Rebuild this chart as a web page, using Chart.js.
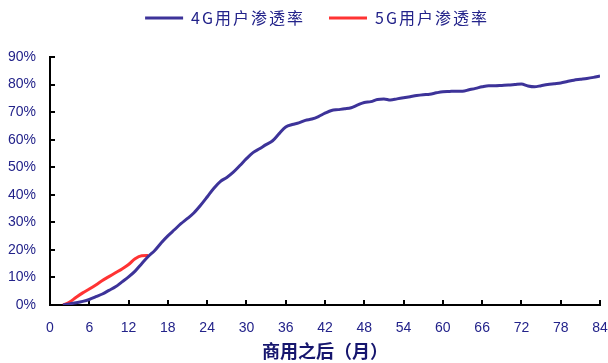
<!DOCTYPE html>
<html>
<head>
<meta charset="utf-8">
<script src="https://cdn.jsdelivr.net/npm/chart.js@4.4.1/dist/chart.umd.min.js"></script>
<style>
  html, body { margin: 0; padding: 0; background: #fff; }
</style>
</head>
<body>
<canvas id="myChart" width="608" height="363"></canvas>
<script>
// months after commercial launch, and penetration (%)
var months4g = [2, 3, 4, 5, 6, 7, 8, 9, 10, 11, 12, 13, 14, 15, 16, 17, 18, 19, 20,
  21, 22, 23, 24, 25, 26, 27, 28, 29, 30, 31, 32, 33, 34, 35, 36, 37, 38, 39, 40,
  41, 42, 43, 44, 45, 46, 47, 48, 49, 50, 51, 52, 53, 54, 55, 56, 57, 58, 59, 60,
  61, 62, 63, 64, 65, 66, 67, 68, 69, 70, 71, 72, 73, 74, 75, 76, 77, 78, 79, 80,
  81, 82, 83, 84];
var rate4g = [0, 0.4, 0.8, 1.3, 2.0, 3.0, 4.0, 5.3, 6.6, 8.4, 10.2, 12.3, 15.0, 17.6, 19.8, 22.6, 25.1, 27.3, 29.5,
  31.4, 33.5, 36.2, 39.2, 42.3, 44.8, 46.3, 48.2, 50.6, 53.1, 55.3, 56.7, 58.2, 59.6, 62.2, 64.6, 65.5, 66.1, 67.0, 67.5,
  68.4, 69.6, 70.6, 70.9, 71.2, 71.6, 72.6, 73.5, 73.8, 74.6, 74.8, 74.4, 74.8, 75.2, 75.6, 76.0, 76.3, 76.5, 77.0, 77.4,
  77.5, 77.6, 77.6, 78.1, 78.6, 79.2, 79.6, 79.6, 79.7, 79.8, 80.0, 80.2, 79.5, 79.2, 79.6, 80.0, 80.3, 80.6, 81.1, 81.6,
  81.9, 82.2, 82.6, 83.1];

var months5g = [2, 3, 4, 5, 6, 7, 8, 9, 10, 11, 12, 13, 14, 15];
var rate5g = [0, 1.1, 2.8, 4.4, 5.8, 7.3, 8.9, 10.3, 11.7, 13.1, 14.7, 16.8, 17.9, 18.0];

var labels = ['4G用户渗透率', '5G用户渗透率'];
var xTitle = '商用之后（月）';

var textColor = '#23238a';
var legendShift = [13, -18];
var ctx = document.getElementById('myChart');

function pts(xs, ys) {
  return xs.map(function (m, i) { return { x: m, y: ys[i] }; });
}

// short tick marks drawn inside the plot, like the original
var innerTicks = {
  id: 'innerTicks',
  beforeDatasetsDraw: function (chart) {
    var c = chart.ctx, xs = chart.scales.x, ys = chart.scales.y;
    c.save();
    c.strokeStyle = '#000';
    c.lineWidth = 2;
    xs.ticks.forEach(function (t) {
      var px = Math.round(xs.getPixelForValue(t.value));
      c.beginPath(); c.moveTo(px, ys.bottom); c.lineTo(px, ys.bottom - 5); c.stroke();
    });
    ys.ticks.forEach(function (t) {
      var py = Math.round(ys.getPixelForValue(t.value));
      c.beginPath(); c.moveTo(xs.left, py); c.lineTo(xs.left + 5, py); c.stroke();
    });
    c.restore();
  }
};

// spaced legend text, legend moved up and a bit right
var legendTweak = {
  id: 'legendTweak',
  beforeInit: function (chart) {
    var lg = chart.legend;
    var fit = lg.fit, draw = lg.draw;
    lg.fit = function () {
      this.ctx.letterSpacing = '2px';
      fit.call(this);
      this.ctx.letterSpacing = '0px';
      this.height = 53;
    };
    lg.draw = function () {
      var c = this.ctx;
      c.save();
      c.letterSpacing = '2px';
      c.translate(legendShift[0], legendShift[1]);
      draw.call(this);
      c.restore();
    };
  }
};

var myChart = new Chart(ctx, {
  type: 'line',
  data: {
    datasets: [
      {
        label: labels[0],
        data: pts(months4g, rate4g),
        borderColor: '#3d3399',
        backgroundColor: '#3d3399',
        borderWidth: 3,
        pointRadius: 0,
        fill: false,
        cubicInterpolationMode: 'monotone'
      },
      {
        label: labels[1],
        data: pts(months5g, rate5g),
        borderColor: '#ff3333',
        backgroundColor: '#ff3333',
        borderWidth: 3,
        pointRadius: 0,
        fill: false,
        cubicInterpolationMode: 'monotone'
      }
    ]
  },
  options: {
    responsive: false,
    animation: false,
    layout: { padding: { top: 4, right: 0, left: 0, bottom: 0 } },
    plugins: {
      legend: {
        position: 'top',
        labels: {
          usePointStyle: true,
          pointStyle: 'line',
          pointStyleWidth: 38,
          padding: 24,
          color: textColor,
          font: { family: '"Noto Sans CJK SC", sans-serif', size: 16 }
        }
      },
      tooltip: { enabled: false }
    },
    scales: {
      x: {
        type: 'linear',
        min: 0,
        max: 84,
        grid: { display: false, drawTicks: false },
        border: { color: '#000', width: 2 },
        ticks: {
          stepSize: 6,
          padding: 15,
          maxRotation: 0,
          color: textColor,
          font: { family: '"Liberation Sans", Arial, sans-serif', size: 14 }
        },
        title: {
          display: true,
          text: xTitle,
          color: '#16166e',
          padding: { top: 0, bottom: 1 },
          font: { family: '"Noto Sans CJK SC", sans-serif', size: 18, weight: 'bold' }
        },
        afterFit: function (scale) {
          scale.height = 58;
          scale.paddingRight = 8;
          scale.paddingLeft = 8;
        }
      },
      y: {
        min: 0,
        max: 90,
        grid: { display: false, drawTicks: false },
        border: { color: '#000', width: 2 },
        ticks: {
          stepSize: 10,
          padding: 14,
          color: textColor,
          font: { family: '"Liberation Sans", Arial, sans-serif', size: 14 },
          callback: function (v) { return v + '%'; }
        },
        afterFit: function (scale) { scale.width = 50; }
      }
    }
  },
  plugins: [innerTicks, legendTweak]
});
</script>
</body>
</html>
